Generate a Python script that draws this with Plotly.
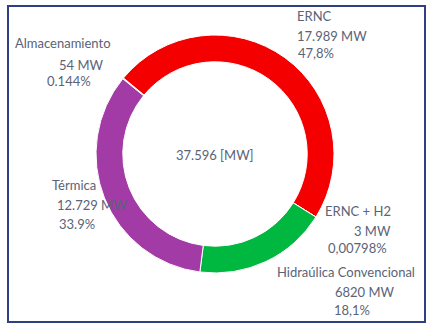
import plotly.graph_objects as go

# ---- data ----
categories = ["Almacenamiento", "ERNC", "ERNC + H2", "Hidraúlica Convencional", "Térmica"]
values_mw = [54, 17989, 3, 6820, 12729]
value_labels = ["54 MW", "17.989 MW", "3 MW", "6820 MW", "12.729 MW"]
pct_labels = ["0.144%", "47,8%", "0,00798%", "18,1%", "33.9%"]
total_label = "37.596 [MW]"
colors = ["#f6c7a4", "#f50000", "#f50000", "#00b83f", "#a23ba5"]

W, H = 428, 327
TXT = "#5a6377"
FONT = "Lato"

fig = go.Figure()

cx, cy, r = 215, 154, 119
fig.add_trace(go.Pie(
    labels=categories,
    values=values_mw,
    sort=False,
    direction="clockwise",
    rotation=-50.8,
    hole=0.775,
    marker=dict(colors=colors, line=dict(color="white", width=1)),
    textinfo="none",
    hoverinfo="label+value+percent",
    showlegend=False,
    domain=dict(x=[(cx - r) / W, (cx + r) / W],
                y=[1 - (cy + r) / H, 1 - (cy - r) / H]),
))

# label layout (pixel positions: name, value, pct lines)
label_pos = {
    "Almacenamiento": [(13, 43), (57, 65), (45, 81)],
    "ERNC": [(295, 16), (295, 36), (296, 53)],
    "ERNC + H2": [(323, 211), (352, 231), (326, 248)],
    "Hidraúlica Convencional": [(275, 272), (333, 292), (332, 310)],
    "Térmica": [(50, 185), (55, 205), (57, 224)],
}

anns = []
for i, cat in enumerate(categories):
    texts = [cat, value_labels[i], pct_labels[i]]
    for (px, py), t in zip(label_pos[cat], texts):
        anns.append(dict(x=px / W, y=1 - py / H, xref="paper", yref="paper",
                         text=t, showarrow=False, xanchor="left", yanchor="middle",
                         font=dict(family=FONT, size=13, color=TXT)))
anns.append(dict(x=cx / W, y=1 - 155 / H, xref="paper", yref="paper",
                 text=total_label, showarrow=False, xanchor="center", yanchor="middle",
                 font=dict(family=FONT, size=13, color=TXT)))

fig.update_layout(
    width=W, height=H,
    margin=dict(l=0, r=0, t=0, b=0),
    paper_bgcolor="white",
    plot_bgcolor="white",
    annotations=anns,
    shapes=[dict(type="rect", xref="paper", yref="paper",
                 x0=8 / W, x1=425 / W, y0=1 - 322 / H, y1=1 - 6 / H,
                 line=dict(color="#2f3f80", width=2), fillcolor="rgba(0,0,0,0)")],
)

fig.write_html("out.html")
